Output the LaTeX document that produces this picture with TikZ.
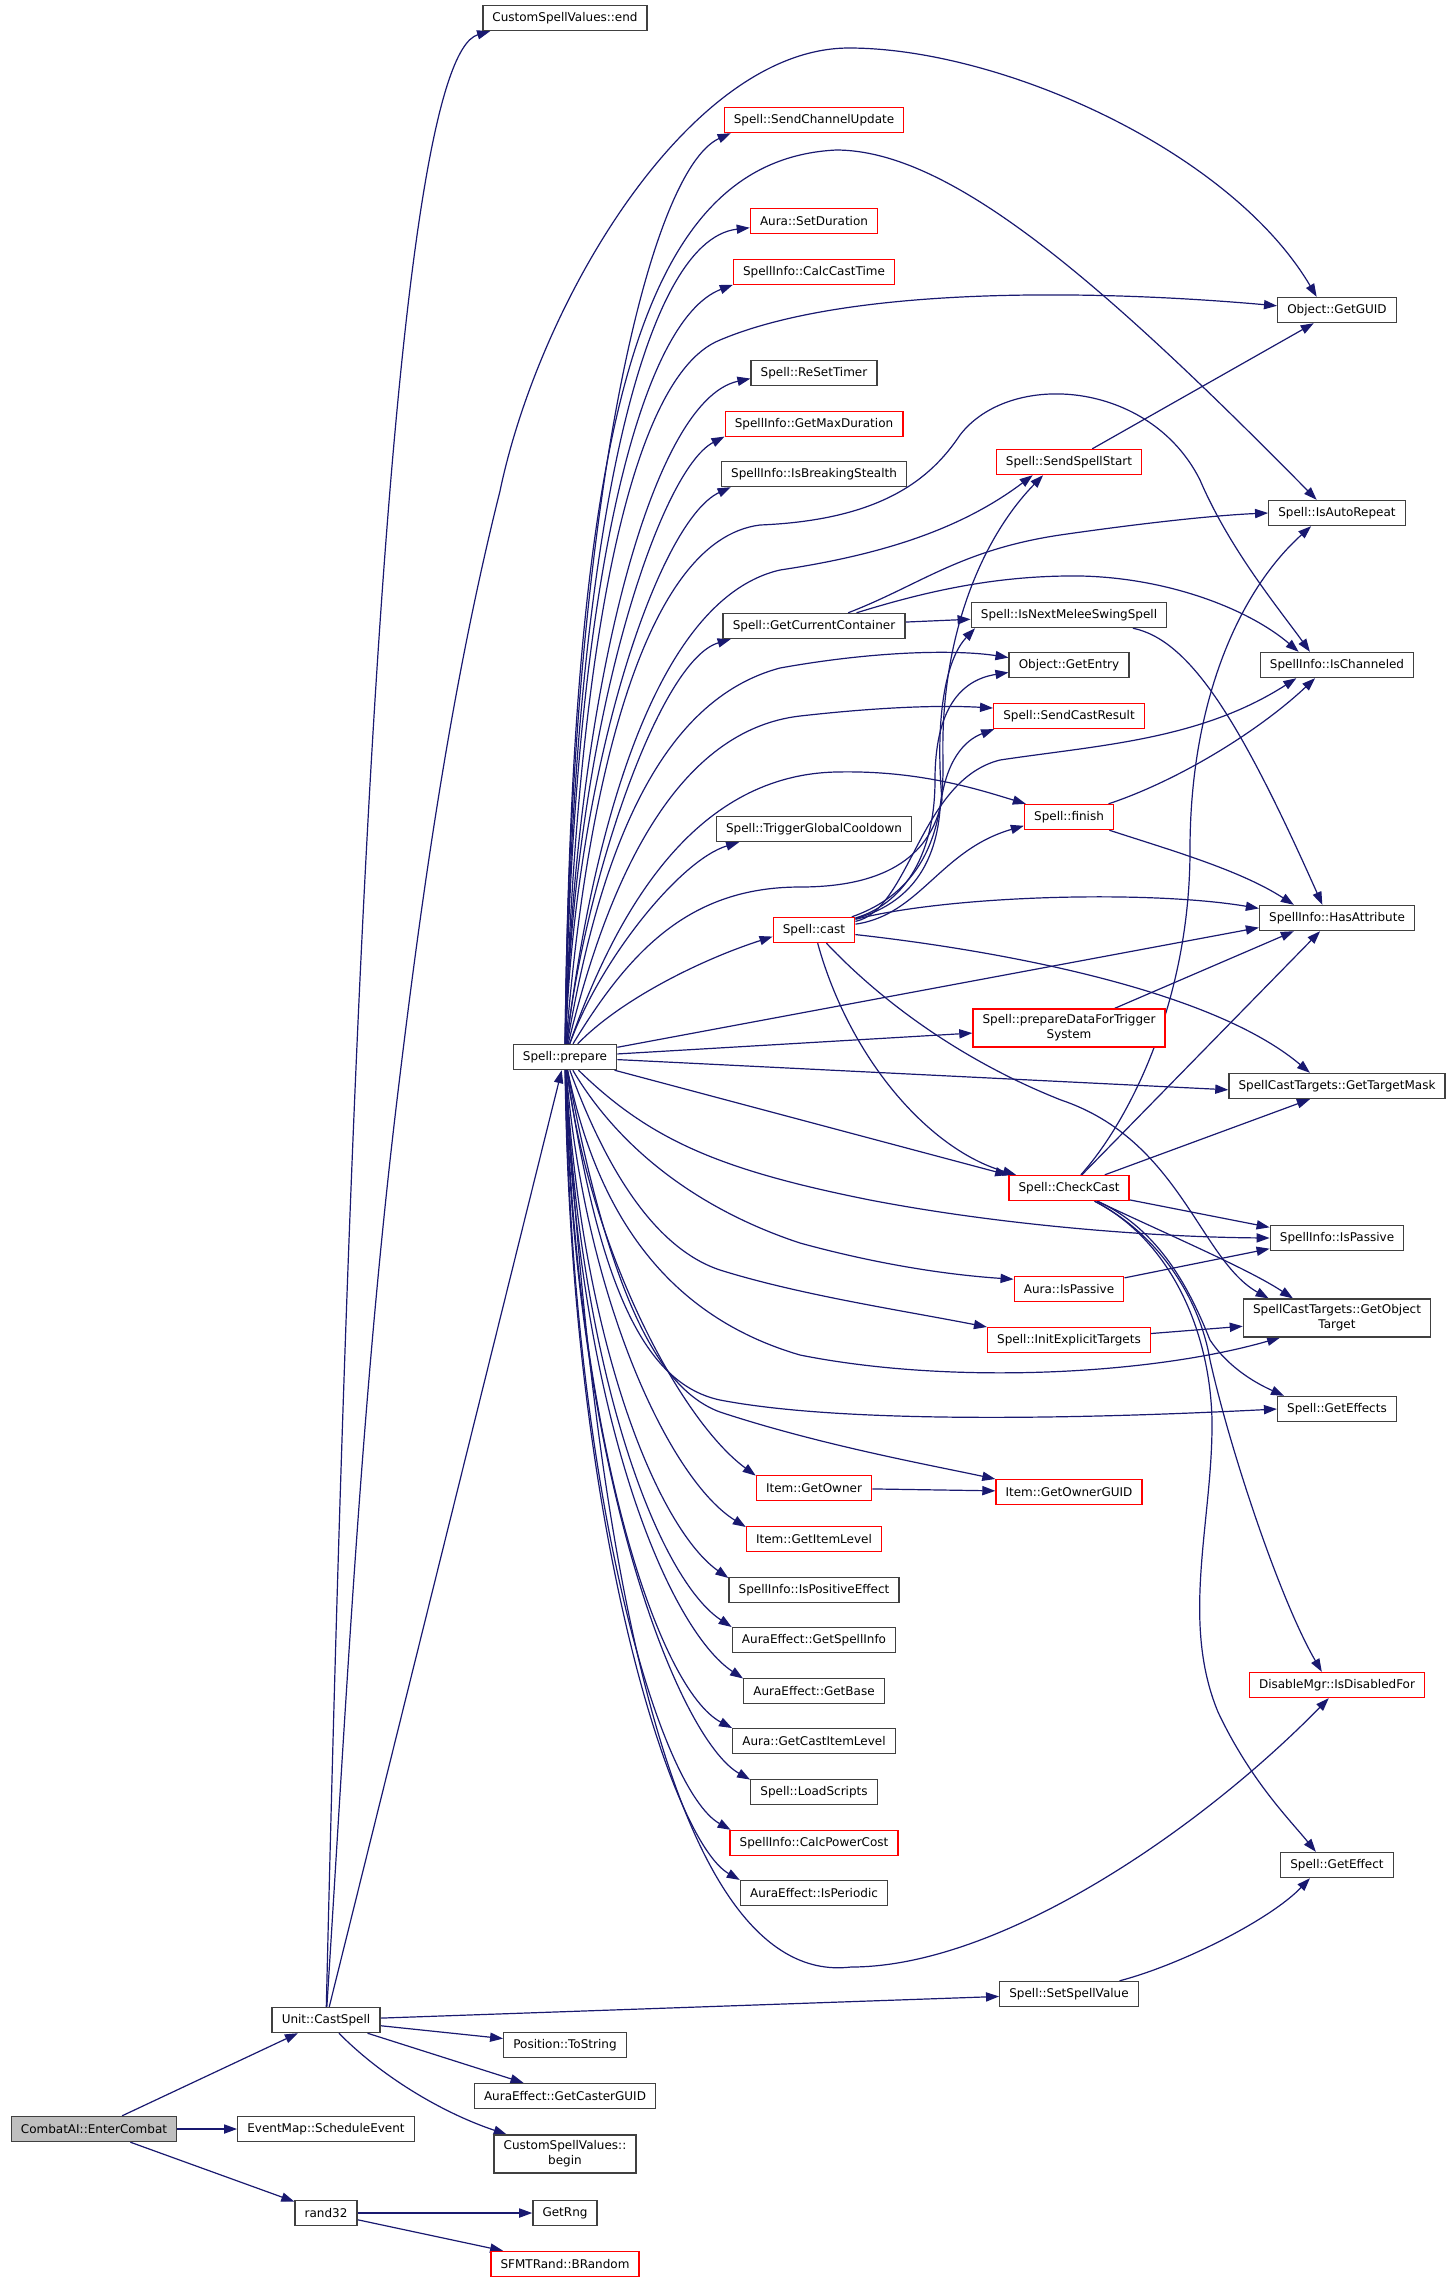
\documentclass[tikz,border=0pt]{standalone}
\usepackage{fontspec}
\setmainfont{DejaVu Sans}
\usetikzlibrary{arrows.meta,backgrounds}
\definecolor{edgeblue}{HTML}{191970}
\definecolor{boxline}{HTML}{404040}
\definecolor{boxred}{HTML}{FF0000}
\definecolor{rootfill}{HTML}{BFBFBF}
\tikzset{>={Triangle[length=6.5pt,width=4.6pt]}, % filled heads as in the call graph
fn/.style={draw=boxline, line width=0.7pt, fill=white, inner xsep=4.8pt, inner ysep=2.8pt,
  minimum height=12.5pt, font=\fontsize{6}{7.5}\selectfont, align=center}, % plain function box
fnred/.style={fn, draw=boxred}, % function with more calls not shown
root/.style={fn, fill=rootfill}, % the function the graph starts from
call/.style={->, draw=edgeblue, line width=0.6pt}, % one call
}

\begin{document}
\begin{tikzpicture}[x=0.5pt, y=-0.5pt]
\useasboundingbox (0,0) rectangle (1453,2283);
% left part
\node[root] (enter) at (94,2129) {CombatAI::EnterCombat};
\node[fn] (castspell) at (326,2020) {Unit::CastSpell};
\node[fn] (sched) at (326,2129) {EventMap::ScheduleEvent};
\node[fn] (rnd) at (326,2213) {rand32};
\node[fn] (tostr) at (565,2045) {Position::ToString};
\node[fn] (cguid) at (565,2096) {AuraEffect::GetCasterGUID};
\node[fn] (cbegin) at (565,2154) {CustomSpellValues::\\begin};
\node[fn] (getrng) at (565,2213) {GetRng};
\node[fnred] (brand) at (565,2264) {SFMTRand::BRandom};
\node[fn] (cend) at (565,18) {CustomSpellValues::end};
\node[fn] (prep) at (565,1057) {Spell::prepare};
% second column
\node[fnred] (chupd) at (814,120) {Spell::SendChannelUpdate};
\node[fnred] (setdur) at (814,221) {Aura::SetDuration};
\node[fnred] (calccast) at (814,272) {SpellInfo::CalcCastTime};
\node[fn] (resettimer) at (814,373) {Spell::ReSetTimer};
\node[fnred] (maxdur) at (814,424) {SpellInfo::GetMaxDuration};
\node[fn] (stealth) at (814,474) {SpellInfo::IsBreakingStealth};
\node[fn] (container) at (814,626) {Spell::GetCurrentContainer};
\node[fn] (gcd) at (814,829) {Spell::TriggerGlobalCooldown};
\node[fnred] (cast) at (814,930) {Spell::cast};
\node[fnred] (owner) at (814,1488) {Item::GetOwner};
\node[fnred] (itemlvl) at (814,1539) {Item::GetItemLevel};
\node[fn] (poseff) at (814,1590) {SpellInfo::IsPositiveEffect};
\node[fn] (aespell) at (814,1640) {AuraEffect::GetSpellInfo};
\node[fn] (aebase) at (814,1691) {AuraEffect::GetBase};
\node[fn] (castlvl) at (814,1741) {Aura::GetCastItemLevel};
\node[fn] (scripts) at (814,1792) {Spell::LoadScripts};
\node[fnred] (power) at (814,1843) {SpellInfo::CalcPowerCost};
\node[fn] (periodic) at (814,1893) {AuraEffect::IsPeriodic};
% third column
\node[fnred] (start) at (1069,462) {Spell::SendSpellStart};
\node[fn] (melee) at (1069,615) {Spell::IsNextMeleeSwingSpell};
\node[fn] (entry) at (1069,665) {Object::GetEntry};
\node[fnred] (result) at (1069,716) {Spell::SendCastResult};
\node[fnred] (finish) at (1069,817) {Spell::finish};
\node[fnred] (trig) at (1069,1028) {Spell::prepareDataForTrigger\\System};
\node[fnred] (check) at (1069,1188) {Spell::CheckCast};
\node[fnred] (apassive) at (1069,1289) {Aura::IsPassive};
\node[fnred] (explicit) at (1069,1340) {Spell::InitExplicitTargets};
\node[fnred] (ownguid) at (1069,1492) {Item::GetOwnerGUID};
\node[fn] (setval) at (1069,1994) {Spell::SetSpellValue};
% right column
\node[fn] (guid) at (1337,310) {Object::GetGUID};
\node[fn] (repeat) at (1337,513) {Spell::IsAutoRepeat};
\node[fn] (chan) at (1337,665) {SpellInfo::IsChanneled};
\node[fn] (attr) at (1337,918) {SpellInfo::HasAttribute};
\node[fn] (mask) at (1337,1086) {SpellCastTargets::GetTargetMask};
\node[fn] (spassive) at (1337,1238) {SpellInfo::IsPassive};
\node[fn] (objt) at (1337,1318) {SpellCastTargets::GetObject\\Target};
\node[fn] (effects) at (1337,1409) {Spell::GetEffects};
\node[fnred] (disabled) at (1337,1685) {DisableMgr::IsDisabledFor};
\node[fn] (effect) at (1337,1865) {Spell::GetEffect};

\begin{pgfonlayer}{background}
\fill[white] (0,0) rectangle (1453,2283);
% CombatAI::EnterCombat and rand32
\draw[call] (enter) -- (castspell);
\draw[call] (enter) -- (sched);
\draw[call] (enter) -- (rnd);
\draw[call] (rnd) -- (getrng);
\draw[call] (rnd) -- (brand);
% Unit::CastSpell
\draw[call] (castspell) .. controls (350,1000) and (390,60) .. (cend.-170);
\draw[call] (castspell) .. controls (346,1707) and (361,1400) .. (397,1100) .. controls (421,900) and (450,691) .. (500,491)
  .. controls (540,300) and (690,48) .. (849,48) .. controls (1000,48) and (1230,150) .. (guid.147);
\draw[call] (castspell) -- (prep);
\draw[call] (castspell) -- (setval);
\draw[call] (castspell) -- (tostr);
\draw[call] (castspell) -- (cguid);
\draw[call] (castspell) .. controls (380,2075) and (440,2112) .. (cbegin);
\draw[call] (setval) .. controls (1180,1965) and (1270,1920) .. (effect.-154);
% Spell::prepare, upwards
\draw[call] (prep) .. controls (570,500) and (650,170) .. (chupd.-171);
\draw[call] (prep) .. controls (572,420) and (640,160) .. (836,150) .. controls (950,150) and (1100,280) .. (repeat.147);
\draw[call] (prep) .. controls (572,550) and (640,240) .. (setdur.-174);
\draw[call] (prep) .. controls (573,580) and (640,320) .. (calccast.-171);
\draw[call] (prep) .. controls (575,700) and (620,380) .. (720,340) .. controls (850,285) and (1100,290) .. (guid.176);
\draw[call] (prep) .. controls (575,700) and (650,400) .. (resettimer.-175);
\draw[call] (prep) .. controls (575,720) and (660,470) .. (maxdur.-172);
\draw[call] (prep) .. controls (576,760) and (660,520) .. (stealth.-171);
\draw[call] (prep) .. controls (585,800) and (640,540) .. (760,525) .. controls (880,520) and (930,480) .. (960,435)
  .. controls (1010,370) and (1150,380) .. (1200,480) .. controls (1230,550) and (1280,610) .. (chan.154);
\draw[call] (prep) .. controls (590,850) and (650,600) .. (780,570) .. controls (880,555) and (960,530) .. (start.-160);
\draw[call] (prep) .. controls (585,880) and (660,660) .. (container.-171);
\draw[call] (prep) .. controls (600,850) and (660,700) .. (780,668) .. controls (880,650) and (960,650) .. (entry.173);
\draw[call] (prep) .. controls (610,870) and (680,730) .. (800,716) .. controls (880,707) and (940,705) .. (result.174);
\draw[call] (prep) .. controls (620,900) and (700,775) .. (836,772) .. controls (920,770) and (980,790) .. (finish.163);
\draw[call] (prep) .. controls (600,960) and (680,860) .. (gcd.-170);
\draw[call] (prep) .. controls (630,950) and (690,887) .. (800,887) .. controls (880,887) and (930,860) .. (942,800)
  .. controls (935,720) and (945,660) .. (melee.-172);
\draw[call] (prep) .. controls (620,1000) and (700,960) .. (cast.-171);
% Spell::prepare, to the right
\draw[call] (prep) -- (attr.-173);
\draw[call] (prep) -- (trig.-177);
\draw[call] (prep) -- (mask.-178);
\draw[call] (prep) -- (check.168);
% Spell::prepare, downwards
\draw[call] (prep) .. controls (650,1140) and (720,1170) .. (870,1200) .. controls (1000,1225) and (1150,1237) .. (spassive.west);
\draw[call] (prep) .. controls (620,1150) and (700,1210) .. (800,1243) .. controls (880,1265) and (950,1275) .. (apassive.170);
\draw[call] (prep) .. controls (610,1180) and (660,1250) .. (720,1270) .. controls (800,1295) and (900,1310) .. (explicit.171);
\draw[call] (prep) .. controls (600,1230) and (680,1320) .. (800,1355) .. controls (950,1385) and (1150,1375) .. (objt.-161);
\draw[call] (prep) .. controls (600,1300) and (650,1385) .. (720,1400) .. controls (850,1425) and (1100,1418) .. (effects.west);
\draw[call] (prep) .. controls (610,1300) and (660,1390) .. (720,1412) .. controls (820,1445) and (930,1465) .. (ownguid.170);
\draw[call] (prep) .. controls (590,1250) and (680,1420) .. (owner.168);
\draw[call] (prep) .. controls (585,1300) and (670,1480) .. (itemlvl.170);
\draw[call] (prep) .. controls (582,1350) and (660,1530) .. (poseff.172);
\draw[call] (prep) .. controls (580,1380) and (660,1580) .. (aespell.171);
\draw[call] (prep) .. controls (578,1420) and (670,1630) .. (aebase.170);
\draw[call] (prep) .. controls (576,1450) and (660,1690) .. (castlvl.171);
\draw[call] (prep) .. controls (574,1480) and (680,1740) .. (scripts.169);
\draw[call] (prep) .. controls (572,1500) and (660,1790) .. (power.171);
\draw[call] (prep) .. controls (570,1520) and (670,1840) .. (periodic.170);
\draw[call] (prep) .. controls (590,1500) and (660,1990) .. (851,1967) .. controls (1000,1967) and (1200,1830) .. (disabled.-122);
% Spell::GetCurrentContainer
\draw[call] (container) -- (melee);
\draw[call] (container) .. controls (920,585) and (960,550) .. (1060,535) .. controls (1150,522) and (1220,515) .. (repeat.west);
\draw[call] (container) .. controls (930,590) and (1000,575) .. (1081,576) .. controls (1170,578) and (1250,610) .. (chan.161);
% Spell::cast
\draw[call] (cast) .. controls (900,900) and (945,860) .. (943,760) .. controls (940,640) and (980,540) .. (start.-153);
\draw[call] (cast) .. controls (900,905) and (935,860) .. (935,780) .. controls (935,710) and (960,680) .. (entry.-173);
\draw[call] (cast) .. controls (905,905) and (935,870) .. (940,810) .. controls (945,760) and (965,740) .. (result.-170);
\draw[call] (cast) .. controls (920,915) and (940,850) .. (finish.-169);
\draw[call] (cast) .. controls (910,910) and (920,780) .. (1000,760) .. controls (1100,745) and (1200,740) .. (chan.-162);
\draw[call] (cast) .. controls (950,895) and (1150,890) .. (attr.173);
\draw[call] (cast) .. controls (950,945) and (1200,980) .. (mask.154);
\draw[call] (cast) .. controls (850,1060) and (930,1150) .. (check.166);
\draw[call] (cast) .. controls (880,1000) and (960,1060) .. (1061,1100) .. controls (1180,1140) and (1200,1260) .. (objt.164);
% smaller ones
\draw[call] (start) -- (guid);
\draw[call] (melee) .. controls (1190,640) and (1240,720) .. (attr.138);
\draw[call] (finish) .. controls (1180,780) and (1260,730) .. (chan.-149);
\draw[call] (finish) .. controls (1170,850) and (1240,870) .. (attr.163);
\draw[call] (trig) -- (attr.-163);
\draw[call] (apassive) -- (spassive.-171);
\draw[call] (explicit) -- (objt.-175);
\draw[call] (owner) -- (ownguid);
% Spell::CheckCast
\draw[call] (check) .. controls (1130,1120) and (1190,1000) .. (1190,850) .. controls (1190,700) and (1240,590) .. (repeat.-153);
\draw[call] (check) -- (attr.-142);
\draw[call] (check) -- (mask.-154);
\draw[call] (check) -- (spassive.171);
\draw[call] (check) .. controls (1180,1240) and (1250,1270) .. (objt.156);
\draw[call] (check) .. controls (1160,1230) and (1190,1290) .. (1210,1340) .. controls (1230,1370) and (1260,1385) .. (effects.166);
\draw[call] (check) .. controls (1160,1235) and (1200,1300) .. (1210,1360) .. controls (1230,1450) and (1280,1600) .. (disabled.139);
\draw[call] (check) .. controls (1170,1240) and (1210,1330) .. (1212,1420) .. controls (1213,1520) and (1180,1620) .. (1218,1712)
  .. controls (1250,1780) and (1290,1820) .. (effect.148);
\end{pgfonlayer}
\end{tikzpicture}
\end{document}
